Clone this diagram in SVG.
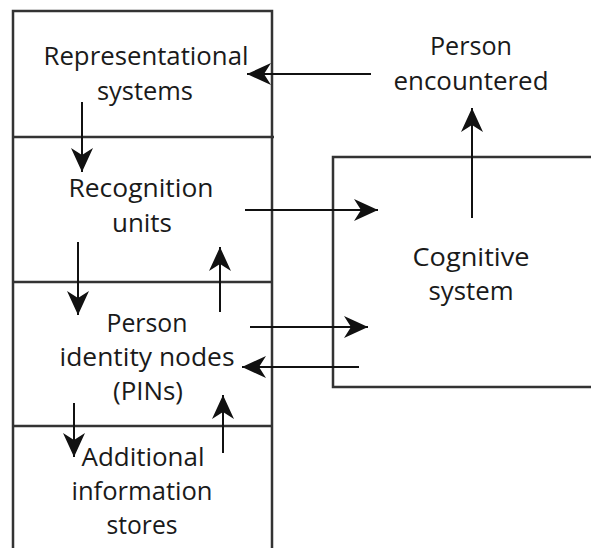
<svg xmlns="http://www.w3.org/2000/svg" width="591" height="548" viewBox="0 0 591 548">
<defs>
<marker id="ah" viewBox="0 0 24 22" refX="24" refY="11" markerWidth="24" markerHeight="22" markerUnits="userSpaceOnUse" orient="auto">
<path d="M0,0 L24,11 L0,22 L7,11 z" fill="#111"/>
</marker>
<style>
.box{fill:none;stroke:#333;stroke-width:2.5}
.ar{stroke:#111;stroke-width:2;fill:none;marker-end:url(#ah)}
.t{font-family:"Open Sans","Noto Sans",sans-serif;font-size:25px;fill:#1a1a1a;text-anchor:middle}
</style>
</defs>
<rect width="591" height="548" fill="#fff"/>
<g id="stack-frame">
<path class="box" d="M13,548 V11 H272 V548"/>
</g>
<g id="representational-systems" class="t">
<line class="box" x1="13" y1="137" x2="274" y2="137"/>
<text x="146" y="65" textLength="205" lengthAdjust="spacingAndGlyphs">Representational</text>
<text x="145" y="100" textLength="96" lengthAdjust="spacingAndGlyphs">systems</text>
</g>
<g id="recognition-units" class="t">
<line class="box" x1="13" y1="282" x2="272" y2="282"/>
<text x="141" y="197" textLength="145" lengthAdjust="spacingAndGlyphs">Recognition</text>
<text x="142" y="232" textLength="60" lengthAdjust="spacingAndGlyphs">units</text>
</g>
<g id="person-identity-nodes" class="t">
<line class="box" x1="13" y1="426" x2="272" y2="426"/>
<text x="147" y="332" textLength="81" lengthAdjust="spacingAndGlyphs">Person</text>
<text x="147" y="366" textLength="175" lengthAdjust="spacingAndGlyphs">identity nodes</text>
<text x="148" y="400" textLength="70" lengthAdjust="spacingAndGlyphs">(PINs)</text>
</g>
<g id="additional-information-stores" class="t">
<text x="143" y="466" textLength="123" lengthAdjust="spacingAndGlyphs">Additional</text>
<text x="142" y="500" textLength="141" lengthAdjust="spacingAndGlyphs">information</text>
<text x="142" y="534" textLength="71" lengthAdjust="spacingAndGlyphs">stores</text>
</g>
<g id="cognitive-system" class="t">
<path class="box" d="M591,157 H333 V387 H591"/>
<text x="471" y="266" textLength="117" lengthAdjust="spacingAndGlyphs">Cognitive</text>
<text x="471" y="300" textLength="85" lengthAdjust="spacingAndGlyphs">system</text>
</g>
<g id="person-encountered" class="t">
<text x="471" y="55" textLength="82" lengthAdjust="spacingAndGlyphs">Person</text>
<text x="471" y="90" textLength="155" lengthAdjust="spacingAndGlyphs">encountered</text>
</g>
<g id="connectors">
<line class="ar" x1="371" y1="74" x2="247" y2="74"/>
<line class="ar" x1="82" y1="102" x2="82" y2="172"/>
<line class="ar" x1="245" y1="210" x2="378" y2="210"/>
<line class="ar" x1="78" y1="242" x2="78" y2="315"/>
<line class="ar" x1="220" y1="312" x2="220" y2="247"/>
<line class="ar" x1="250" y1="327" x2="368" y2="327"/>
<line class="ar" x1="359" y1="367" x2="242" y2="367"/>
<line class="ar" x1="74" y1="403" x2="74" y2="457"/>
<line class="ar" x1="223" y1="453" x2="223" y2="395"/>
<line class="ar" x1="472" y1="218" x2="472" y2="108"/>
</g>
</svg>
